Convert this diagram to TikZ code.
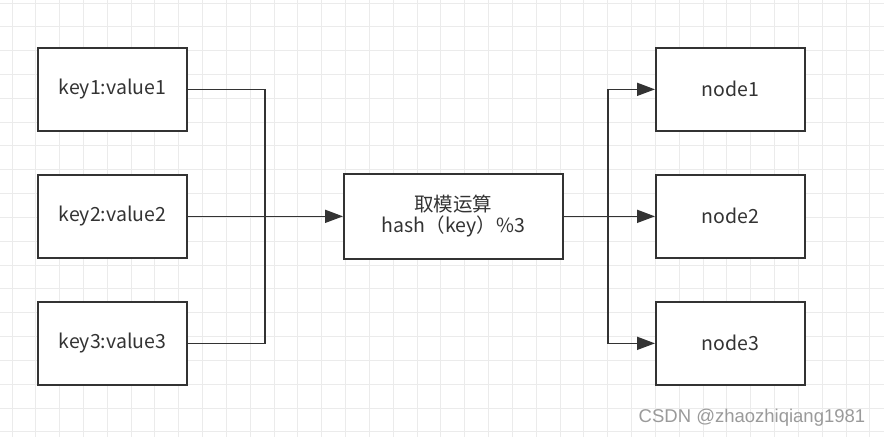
\documentclass[tikz,border=0pt]{standalone}
\usepackage{fontspec}
\setmainfont{Noto Sans CJK SC}
\newfontfamily\wmfont{Liberation Sans}
\usetikzlibrary{arrows.meta}
\definecolor{gridc}{HTML}{EBEBEB}
\definecolor{linec}{HTML}{333333}
\definecolor{txtc}{HTML}{333333}
\definecolor{wmc}{HTML}{9A9A9A}
\begin{document}
\begin{tikzpicture}[x=1pt,y=-1pt,
  box/.style={draw=linec,line width=1.7pt,fill=white,minimum width=149pt,minimum height=83pt,inner sep=0pt,text=txtc,font=\fontsize{19.5}{21}\selectfont,anchor=north west},
  conn/.style={draw=linec,line width=1.7pt},
  arr/.style={conn,-{Triangle[length=18pt,width=13pt]}}]
\useasboundingbox (0,0) rectangle (884,437);
\fill[white] (0,0) rectangle (884,437);
\foreach \i in {0,...,37} {\draw[gridc,line width=1pt] ({12+23.83*\i},0) -- ({12+23.83*\i},437);}
\foreach \j in {0,...,18} {\draw[gridc,line width=1pt] (0,{3+23.83*\j}) -- (884,{3+23.83*\j});}
\node[box] (k1) at (37,47) {key1:value1};
\node[box] (k2) at (37,174) {key2:value2};
\node[box] (k3) at (37,301) {key3:value3};
\node[box,minimum width=219pt,minimum height=85pt,align=center] (h) at (343,173) {取模运算\\hash（key）\%3};
\node[box] (n1) at (655,47) {node1};
\node[box] (n2) at (655,174) {node2};
\node[box] (n3) at (655,301) {node3};
\coordinate (jl) at (265,0);
\coordinate (jr) at (608,0);
\draw[conn] (k1.east) -| (jl |- k3.east) -- (k3.east);
\draw[arr] (k2.east) -- (h.west);
\draw[conn] (h.east) -- (jr |- h.east);
\draw[arr] (jr |- h.east) |- (n1.west);
\draw[arr] (jr |- h.east) |- (n3.west);
\draw[arr] (jr |- h.east) -- (n2.west);
\node[anchor=center,text=wmc,font=\wmfont\fontsize{18.5}{20}\selectfont] (wm) at (752,418) {CSDN @zhaozhiqiang1981};
\end{tikzpicture}
\end{document}
